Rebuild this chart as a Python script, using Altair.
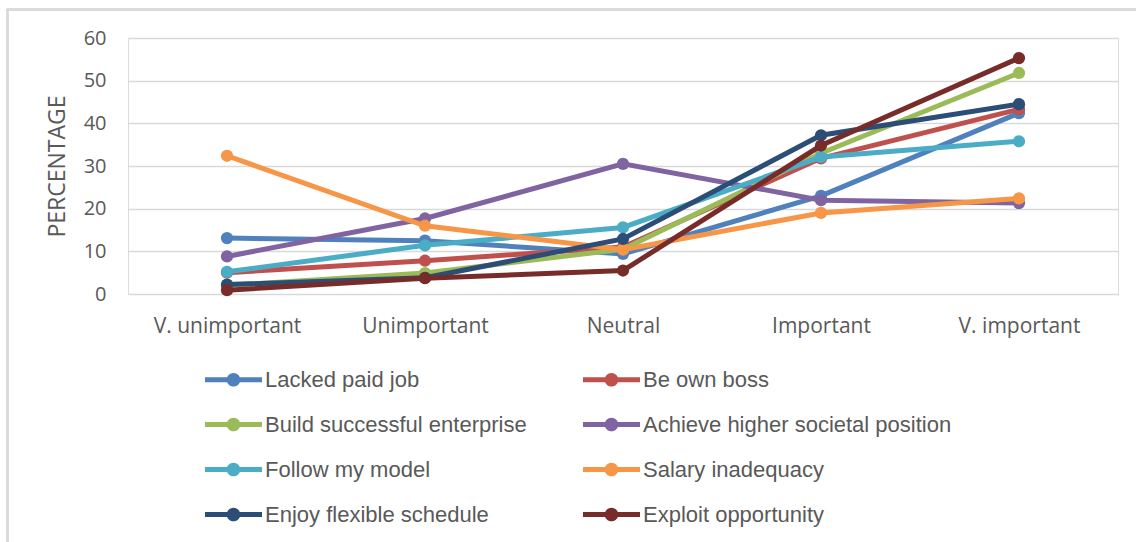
import altair as alt
import pandas as pd

categories = ["V. unimportant", "Unimportant", "Neutral", "Important", "V. important"]
series = [
    "Lacked paid job",
    "Be own boss",
    "Build successful enterprise",
    "Achieve higher societal position",
    "Follow my model",
    "Salary inadequacy",
    "Enjoy flexible schedule",
    "Exploit opportunity",
]
colors = ["#4F81BD", "#C0504D", "#9BBB59", "#8064A2", "#4BACC6", "#F79646", "#2C4D75", "#772C2A"]

lacked_paid_job = [13.1, 12.5, 9.4, 23.0, 42.4]
be_own_boss = [5.0, 7.8, 11.0, 31.8, 43.3]
build_successful_enterprise = [2.0, 4.9, 10.5, 33.0, 51.8]
achieve_higher_position = [8.8, 17.7, 30.5, 22.0, 21.3]
follow_my_model = [5.2, 11.4, 15.6, 32.1, 35.8]
salary_inadequacy = [32.4, 16.0, 10.4, 19.0, 22.4]
enjoy_flexible_schedule = [2.2, 3.8, 12.9, 37.2, 44.5]
exploit_opportunity = [0.9, 3.7, 5.5, 34.8, 55.3]

values = [
    lacked_paid_job, be_own_boss, build_successful_enterprise, achieve_higher_position,
    follow_my_model, salary_inadequacy, enjoy_flexible_schedule, exploit_opportunity,
]

rows = []
for s, vals in zip(series, values):
    for c, v in zip(categories, vals):
        rows.append({"Series": s, "Category": c, "Value": v})
df = pd.DataFrame(rows)

# legend fills column by column (4 rows x 2 columns); order so it reads row-wise
legend_order = [series[i] for i in (0, 2, 4, 6, 1, 3, 5, 7)]
legend_colors = [colors[i] for i in (0, 2, 4, 6, 1, 3, 5, 7)]

LEG_FONT = "Liberation Sans, sans-serif"
AX_FONT = "Open Sans, sans-serif"
TXT = "#595959"

legend_symbol = "M-2,-0.17 L2,-0.17 L2,0.17 L-2,0.17 Z M-0.48,0 A0.48,0.48 0 1,1 0.48,0 A0.48,0.48 0 1,1 -0.48,0 Z"

color_scale = alt.Scale(domain=legend_order, range=legend_colors)

base = alt.Chart(df).encode(
    x=alt.X(
        "Category:N",
        sort=categories,
        scale=alt.Scale(type="point", padding=0.5),
        axis=alt.Axis(
            title=None, grid=False, domain=False, ticks=False, labelAngle=0,
            labelFont=AX_FONT, labelFontSize=21, labelColor=TXT, labelPadding=21,
        ),
    ),
    y=alt.Y(
        "Value:Q",
        scale=alt.Scale(domain=[0, 60], nice=False),
        axis=alt.Axis(
            title="PERCENTAGE", titleFont=AX_FONT, titleFontSize=23, titleFontWeight="normal",
            titleColor=TXT, titlePadding=14,
            values=[0, 10, 20, 30, 40, 50, 60], domain=False, ticks=False,
            grid=True, gridColor="#D9D9D9", gridWidth=1.5,
            labelFont=AX_FONT, labelFontSize=20, labelColor=TXT, labelPadding=22,
        ),
    ),
    color=alt.Color(
        "Series:N",
        scale=color_scale,
        sort=legend_order,
        legend=alt.Legend(
            title=None, orient="none", legendX=91, legendY=327, columns=2,
            symbolType=legend_symbol, symbolSize=812, symbolStrokeWidth=0,
            labelFont=LEG_FONT, labelFontSize=22, labelColor=TXT, labelOffset=17,
            rowPadding=19, columnPadding=56, padding=0, labelLimit=400,
        ),
    ),
)

layers = []
for s in series:
    layers.append(
        base.transform_filter(alt.datum.Series == s).mark_line(
            strokeWidth=5,
            point=alt.OverlayMarkDef(filled=True, size=150, opacity=1),
        )
    )

frame_left = alt.Chart(df).mark_rule(color="#D9D9D9", strokeWidth=1.5).encode(
    x=alt.value(-120.5), y=alt.value(-28.5), y2=alt.value(520)
)
frame_top = alt.Chart(df).mark_rule(color="#D9D9D9", strokeWidth=1.5).encode(
    x=alt.value(-120.5), x2=alt.value(1020), y=alt.value(-28.5)
)

chart = alt.layer(frame_left, frame_top, *layers).properties(
    width=990, height=256,
    autosize=alt.AutoSizeParams(type="none"),
    padding={"left": 128, "top": 38, "right": 18, "bottom": 248},
).configure_view(stroke=None).configure(background="white")

chart.save("out.html", embed_options={"renderer": "svg", "actions": False})
